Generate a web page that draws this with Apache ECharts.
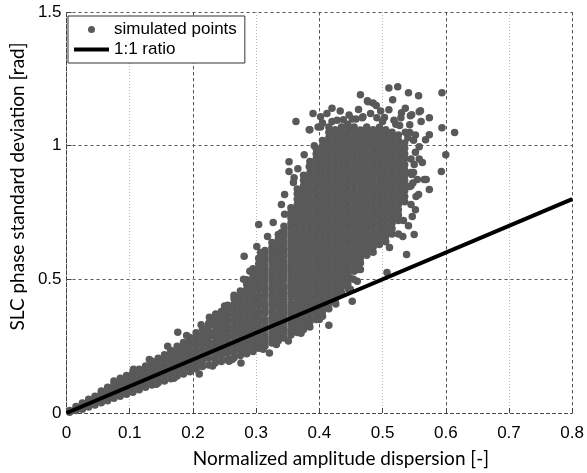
<!DOCTYPE html>
<html><head><meta charset="utf-8">
<script src="https://cdn.jsdelivr.net/npm/echarts@6/dist/echarts.min.js"></script>
<style>html,body{margin:0;padding:0;background:#fff}#c{width:587px;height:473px}</style>
</head><body><div id="c"></div>
<script>
// Tick labels
const xTickLabels = ['0','0.1','0.2','0.3','0.4','0.5','0.6','0.7','0.8'];
const yTickLabels = ['0','0.5','1','1.5'];
const xAxisName = 'Normalized amplitude dispersion [-]';
const yAxisName = 'SLC phase standard deviation [rad]';
const seriesNames = ['simulated points', '1:1 ratio'];

// Dense band near the 1:1 line (each row: x, then y values read at that x)
const bandColumns = [
 [0.005, 0.003,0.009],
 [0.015, 0.009,0.017,0.024],
 [0.025, 0.014,0.026,0.037],
 [0.035, 0.022,0.036,0.051],
 [0.045, 0.03,0.046,0.063],
 [0.055, 0.038,0.056,0.074,0.082],
 [0.065, 0.046,0.064,0.082,0.096],
 [0.075, 0.055,0.073,0.091,0.108,0.12],
 [0.085, 0.063,0.081,0.099,0.117,0.13],
 [0.095, 0.07,0.09,0.11,0.128,0.14],
 [0.105, 0.078,0.097,0.116,0.135,0.152],
 [0.115, 0.087,0.106,0.125,0.145,0.164],
 [0.125, 0.096,0.116,0.136,0.156,0.176],
 [0.135, 0.105,0.124,0.144,0.164,0.182,0.194],
 [0.145, 0.113,0.133,0.153,0.173,0.19,0.205],
 [0.155, 0.12,0.14,0.16,0.18,0.2,0.218],
 [0.165, 0.128,0.148,0.168,0.188,0.208,0.228,0.234],
 [0.175, 0.138,0.158,0.178,0.198,0.218,0.238,0.25],
 [0.185, 0.146,0.166,0.186,0.206,0.226,0.246,0.264],
 [0.195, 0.154,0.174,0.194,0.214,0.234,0.254,0.274,0.282]
];

// Widening cloud, x 0.2 - 0.3
const midColumns = [
 [0.205, 0.165,0.185,0.205,0.225,0.245,0.265,0.285,0.3],
 [0.215, 0.174,0.195,0.215,0.234,0.255,0.275,0.294,0.315],
 [0.225, 0.18,0.205,0.225,0.244,0.265,0.285,0.304,0.325,0.336],
 [0.235, 0.187,0.206,0.224,0.245,0.264,0.285,0.304,0.325,0.344,0.356],
 [0.245, 0.193,0.215,0.234,0.255,0.275,0.294,0.315,0.335,0.354,0.375,0.38],
 [0.255, 0.2,0.224,0.245,0.264,0.285,0.305,0.324,0.345,0.365,0.384,0.403],
 [0.265, 0.207,0.228,0.248,0.268,0.288,0.308,0.328,0.348,0.368,0.388,0.408,0.428],
 [0.275, 0.215,0.236,0.256,0.276,0.296,0.316,0.336,0.356,0.376,0.396,0.416,0.436,0.456],
 [0.285, 0.222,0.242,0.262,0.282,0.302,0.322,0.342,0.362,0.382,0.402,0.422,0.442,0.462,0.482,0.498],
 [0.295, 0.23,0.25,0.27,0.29,0.31,0.33,0.35,0.37,0.39,0.41,0.43,0.45,0.47,0.49,0.51,0.53,0.54]
];

// Main cloud, x 0.3 - 0.55
const upperColumns = [
 [0.304, 0.242,0.259,0.281,0.3,0.318,0.341,0.36,0.379,0.402,0.42,0.438,0.461,0.48,0.499,0.521,0.54,0.558,0.579],
 [0.314, 0.251,0.27,0.289,0.311,0.33,0.349,0.372,0.39,0.409,0.431,0.45,0.468,0.49,0.511,0.529,0.55,0.571,0.589,0.608],
 [0.325, 0.262,0.28,0.299,0.321,0.34,0.358,0.38,0.401,0.419,0.44,0.461,0.479,0.5,0.52,0.539,0.561,0.58,0.6,0.619,0.638],
 [0.335, 0.27,0.291,0.309,0.33,0.351,0.369,0.391,0.41,0.429,0.45,0.471,0.49,0.509,0.531,0.55,0.569,0.591,0.61,0.629,0.65,0.668],
 [0.344, 0.281,0.3,0.318,0.34,0.361,0.38,0.399,0.42,0.441,0.46,0.478,0.5,0.521,0.54,0.559,0.58,0.6,0.619,0.64,0.661,0.68,0.699],
 [0.355, 0.292,0.31,0.329,0.35,0.371,0.39,0.409,0.431,0.45,0.47,0.489,0.51,0.531,0.55,0.569,0.59,0.611,0.63,0.649,0.67,0.691,0.71,0.729,0.75,0.768],
 [0.365, 0.301,0.32,0.339,0.36,0.381,0.4,0.419,0.44,0.461,0.48,0.499,0.52,0.54,0.561,0.58,0.599,0.62,0.641,0.66,0.679,0.7,0.72,0.741,0.76,0.779,0.8,0.82,0.838],
 [0.375, 0.312,0.33,0.35,0.371,0.39,0.409,0.43,0.451,0.47,0.489,0.51,0.53,0.551,0.57,0.589,0.61,0.631,0.65,0.669,0.69,0.711,0.73,0.749,0.77,0.791,0.81,0.829,0.85,0.871,0.889],
 [0.385, 0.322,0.34,0.359,0.38,0.401,0.42,0.439,0.46,0.48,0.501,0.52,0.539,0.56,0.581,0.6,0.619,0.64,0.66,0.681,0.7,0.719,0.74,0.761,0.78,0.799,0.82,0.84,0.861,0.88,0.899,0.92,0.941],
 [0.395, 0.35,0.371,0.39,0.409,0.43,0.451,0.47,0.489,0.51,0.531,0.55,0.569,0.59,0.611,0.63,0.649,0.67,0.691,0.71,0.729,0.75,0.771,0.79,0.809,0.83,0.851,0.87,0.889,0.91,0.931,0.95,0.969,0.988],
 [0.405, 0.362,0.38,0.399,0.42,0.441,0.46,0.479,0.5,0.521,0.54,0.559,0.58,0.601,0.62,0.639,0.66,0.681,0.7,0.719,0.74,0.761,0.78,0.799,0.82,0.841,0.86,0.879,0.9,0.921,0.94,0.959,0.98,1.0,1.019],
 [0.415, 0.39,0.411,0.43,0.449,0.47,0.491,0.51,0.529,0.55,0.571,0.59,0.609,0.63,0.651,0.67,0.689,0.71,0.731,0.75,0.769,0.79,0.811,0.83,0.849,0.87,0.891,0.91,0.929,0.95,0.971,0.99,1.009,1.03,1.05],
 [0.425, 0.421,0.44,0.459,0.48,0.501,0.52,0.539,0.56,0.581,0.6,0.619,0.64,0.661,0.68,0.699,0.72,0.741,0.76,0.779,0.8,0.821,0.84,0.859,0.88,0.901,0.92,0.939,0.96,0.981,1.0,1.02,1.041,1.06],
 [0.435, 0.45,0.471,0.49,0.509,0.53,0.551,0.57,0.589,0.61,0.631,0.65,0.669,0.69,0.711,0.73,0.749,0.77,0.791,0.81,0.829,0.85,0.871,0.89,0.909,0.93,0.951,0.97,0.989,1.01,1.031,1.05,1.07],
 [0.445, 0.481,0.5,0.519,0.54,0.561,0.58,0.599,0.62,0.641,0.66,0.679,0.7,0.721,0.74,0.759,0.78,0.801,0.82,0.839,0.86,0.881,0.9,0.919,0.94,0.961,0.98,1.0,1.02,1.039,1.06,1.08],
 [0.455, 0.53,0.551,0.57,0.589,0.61,0.631,0.65,0.669,0.69,0.711,0.73,0.749,0.77,0.791,0.81,0.829,0.85,0.871,0.89,0.909,0.93,0.951,0.97,0.989,1.01,1.03,1.051,1.07],
 [0.465, 0.561,0.58,0.6,0.619,0.64,0.661,0.68,0.7,0.719,0.74,0.761,0.78,0.8,0.819,0.84,0.861,0.88,0.9,0.919,0.94,0.961,0.98,1.0,1.02,1.04,1.059],
 [0.475, 0.59,0.611,0.63,0.649,0.67,0.691,0.71,0.729,0.75,0.771,0.79,0.809,0.83,0.851,0.87,0.889,0.91,0.931,0.95,0.969,0.99,1.01,1.031,1.05,1.07],
 [0.485, 0.601,0.62,0.64,0.659,0.68,0.701,0.72,0.74,0.759,0.78,0.801,0.82,0.84,0.859,0.88,0.901,0.92,0.94,0.959,0.98,1.0,1.021,1.04,1.06],
 [0.495, 0.63,0.651,0.67,0.689,0.71,0.731,0.75,0.769,0.79,0.811,0.83,0.849,0.87,0.891,0.91,0.929,0.95,0.971,0.99,1.01,1.03,1.05,1.069],
 [0.505, 0.641,0.66,0.68,0.699,0.72,0.741,0.76,0.78,0.799,0.82,0.841,0.86,0.88,0.899,0.92,0.941,0.96,0.98,1.0,1.019,1.04,1.06],
 [0.515, 0.67,0.69,0.711,0.73,0.75,0.769,0.79,0.811,0.83,0.85,0.869,0.89,0.911,0.93,0.95,0.969,0.99,1.011,1.03,1.05],
 [0.525, 0.72,0.741,0.76,0.78,0.8,0.821,0.84,0.86,0.88,0.899,0.92,0.94,0.96,0.981,1.0,1.02,1.04],
 [0.535, 0.79,0.81,0.831,0.85,0.87,0.889,0.91,0.93,0.951,0.97,0.99,1.01],
 [0.545, 0.85,0.9,0.95]
];

// Individually visible scattered points [x, y]
const scatteredPoints = [
 [0.465,1.19],[0.476,1.168],[0.485,1.16],[0.51,1.216],[0.524,1.22],[0.541,1.198],[0.557,1.187],[0.516,1.172],
 [0.594,1.198],[0.51,1.134],[0.56,1.131],[0.529,1.104],[0.544,1.112],[0.574,1.041],[0.594,1.067],[0.614,1.049],
 [0.6,0.966],[0.563,0.937],[0.593,0.903],[0.569,0.873],[0.555,0.873],[0.546,0.892],[0.557,0.817],[0.543,0.847],
 [0.438,1.097],[0.468,1.104],[0.363,1.09],[0.385,1.06],[0.402,1.07],[0.376,0.966],[0.352,0.94],[0.352,0.903],
 [0.366,0.914],[0.384,0.922],[0.359,0.862],[0.345,0.817],[0.34,0.78],[0.345,0.743],[0.327,0.713],[0.34,0.675],
 [0.332,0.619],[0.329,0.582],[0.304,0.705],[0.301,0.623],[0.307,0.6],[0.281,0.586],[0.309,0.597],[0.25,0.4],
 [0.226,0.358],[0.176,0.302],[0.106,0.164],[0.21,0.146],[0.276,0.187],[0.321,0.224],[0.351,0.269],[0.415,0.328],
 [0.382,0.343],[0.452,0.418],[0.446,0.463],[0.441,0.5],[0.454,0.5],[0.465,0.537],[0.507,0.526],[0.538,0.593],
 [0.532,0.66],[0.55,0.668],[0.547,0.735],[0.574,0.836],[0.511,0.619],[0.462,0.537],[0.449,0.504],[0.46,0.493],
 [0.449,0.463],[0.34,0.302],[0.257,0.194],[0.402,1.108],[0.415,1.07],[0.469,1.108],[0.491,1.104],[0.53,1.123],
 [0.546,1.116],[0.558,1.127],[0.574,1.104],[0.543,1.078],[0.561,1.09],[0.543,1.049],[0.568,1.022],[0.558,0.996],
 [0.566,0.873],[0.553,0.81],[0.384,1.06],[0.398,1.07],[0.477,1.164],
 [0.29,0.53],[0.28,0.5],[0.265,0.44],[0.236,0.37],[0.213,0.33],[0.19,0.29],[0.16,0.25],[0.131,0.2],
 [0.17,0.13],[0.231,0.176],[0.262,0.2],[0.311,0.238],[0.332,0.256],[0.371,0.298],[0.42,1.09],[0.452,1.1],
 [0.5,1.09],[0.521,1.08],[0.318,0.66],[0.36,0.88],[0.392,1.0],[0.142,0.108],[0.4,0.35],[0.426,0.408],
 [0.405,1.085],[0.412,1.12],[0.428,1.095],[0.433,1.13],[0.447,1.115],[0.458,1.1],[0.462,1.135],[0.481,1.12],
 [0.497,1.13],[0.503,1.105],[0.518,1.095],[0.527,1.075],[0.536,1.05],[0.54,1.03],[0.549,1.02],[0.552,0.975],
 [0.55,0.93],[0.549,0.9],[0.545,0.78],[0.552,1.04],[0.558,0.95],[0.548,0.86],[0.552,0.76],[0.541,0.7],
 [0.533,0.72],[0.525,0.67],[0.39,1.12],[0.42,1.14],[0.49,1.15],[0.536,1.14]
];

// 1:1 reference line end points
const ratioLine = [[0, 0], [0.8, 0.8]];

const cloud = [];
[bandColumns, midColumns, upperColumns].forEach(cols => cols.forEach(col => {
  for (let i = 1; i < col.length; i++) cloud.push([col[0], col[i]]);
}));
scatteredPoints.forEach(p => cloud.push(p));

const chart = echarts.init(document.getElementById('c'), null, {renderer: 'canvas'});
const font = 'Liberation Sans, Arial, sans-serif';
const nameFont = 'Lato, Open Sans, sans-serif';
chart.setOption({
  animation: false,
  backgroundColor: '#fff',
  grid: {left: 62, right: 12, top: 12, bottom: 59, containLabel: false},
  legend: {
    orient: 'vertical', left: 68, top: 16,
    padding: [5, 8, 5, 6], itemGap: 3, itemWidth: 35, itemHeight: 7, itemTextGap: 5,
    backgroundColor: '#fff', borderColor: '#333', borderWidth: 1, borderRadius: 0,
    textStyle: {fontSize: 17, color: '#000', fontFamily: font},
    data: [
      {name: seriesNames[0], icon: 'circle'},
      {name: seriesNames[1], icon: 'path://M0,0L35,0L35,4L0,4Z'}
    ]
  },
  xAxis: [{
    type: 'value', min: 0, max: 0.8, interval: 0.1,
    name: xAxisName, nameLocation: 'middle', nameGap: 36,
    nameTextStyle: {fontSize: 19, color: '#000', fontFamily: nameFont, padding: [0, 0, 0, 43]},
    axisLine: {show: true, lineStyle: {color: '#444', width: 1, type: [3, 3]}},
    axisTick: {show: true, inside: true, length: 5, lineStyle: {color: '#444'}},
    axisLabel: {fontSize: 17, color: '#000', fontFamily: font, margin: 12,
      formatter: v => xTickLabels[Math.round(v * 10)]},
    splitLine: {show: true, lineStyle: {color: '#b8b8b8', width: 1, type: [1, 2]}}
  }, {
    type: 'value', min: 0, max: 0.8, interval: 0.2, position: 'top',
    axisLine: {show: false}, axisTick: {show: false}, axisLabel: {show: false},
    splitLine: {show: true, lineStyle: {color: '#555', width: 1, type: [3, 3]}}
  }],
  yAxis: {
    type: 'value', min: 0, max: 1.5, interval: 0.5,
    name: yAxisName, nameLocation: 'middle', nameGap: 37,
    nameTextStyle: {fontSize: 19, color: '#000', fontFamily: nameFont, padding: [0, 0, 0, 52]},
    axisLine: {show: true, lineStyle: {color: '#444', width: 1, type: [3, 3]}},
    axisTick: {show: true, inside: true, length: 5, lineStyle: {color: '#444'}},
    axisLabel: {fontSize: 17, color: '#000', fontFamily: font, margin: 5,
      formatter: v => yTickLabels[Math.round(v * 2)]},
    splitLine: {show: true, lineStyle: {color: '#555', width: 1, type: [3, 3]}}
  },
  series: [{
    name: seriesNames[0], type: 'scatter', xAxisIndex: 0, data: cloud,
    symbol: 'circle', symbolSize: 7.5, itemStyle: {color: '#595959', opacity: 1}, z: 2
  }, {
    name: seriesNames[1], type: 'line', xAxisIndex: 0, data: ratioLine,
    symbol: 'none', lineStyle: {color: '#000', width: 4}, itemStyle: {color: '#000'}, z: 3
  }]
});
</script>
</body></html>
